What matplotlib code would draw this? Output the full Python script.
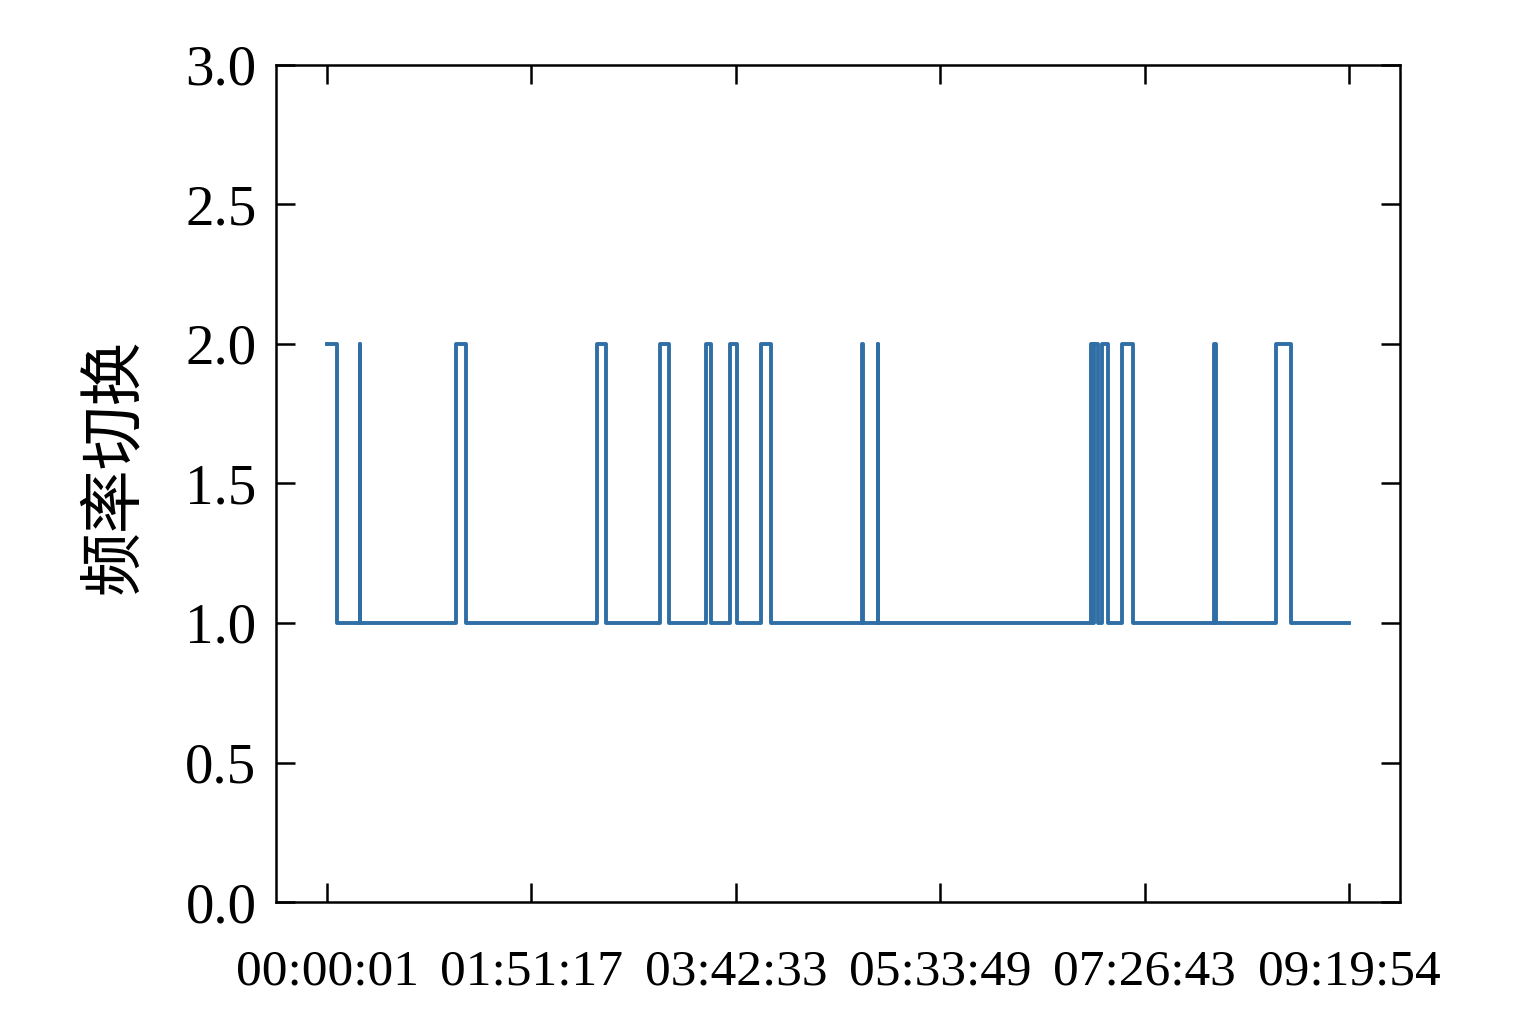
import matplotlib
matplotlib.use("Agg")
import matplotlib.pyplot as plt

# sample index at which the level changes, and the level from there on
switch_idx = [0, 47, 161, 163, 630, 679, 1319, 1364, 1629, 1675, 1853, 1880,
              1972, 2004, 2125, 2172, 2619, 2623, 2694, 2698, 3738, 3750,
              3755, 3772, 3790, 3822, 3888, 3945, 4338, 4352, 4644, 4716, 5000]
levels = [2, 1, 2, 1, 2, 1, 2, 1, 2, 1, 2, 1,
          2, 1, 2, 1, 2, 1, 2, 1, 2, 1,
          2, 1, 2, 1, 2, 1, 2, 1, 2, 1, 1]

tick_idx = [0, 1000, 2000, 3000, 4000, 5000]
tick_labels = ["00:00:01", "01:51:17", "03:42:33", "05:33:49", "07:26:43", "09:19:54"]

plt.rcParams["font.family"] = ["Liberation Serif", "Noto Sans CJK SC"]

fig = plt.figure(figsize=(15.14, 10.31), dpi=100)
ax = fig.add_axes([0.1823, 0.1251, 0.7424, 0.8119])

ax.plot(switch_idx, levels, drawstyle="steps-post", color="#2f6fa5", lw=2.8)

ax.set_ylim(0, 3)
ax.set_xlim(-250, 5250)
ax.set_yticks([0, 0.5, 1.0, 1.5, 2.0, 2.5, 3.0])
ax.set_yticklabels(["0.0", "0.5", "1.0", "1.5", "2.0", "2.5", "3.0"])
ax.set_xticks(tick_idx)
ax.set_xticklabels(tick_labels)

ax.tick_params(direction="in", length=14, width=1.8, top=True, right=True)
ax.tick_params(axis="y", labelsize=41, pad=14)
ax.tick_params(axis="x", labelsize=37, pad=34)
for s in ax.spines.values():
    s.set_linewidth(1.8)

ax.set_ylabel("频率切换", fontsize=46, family=["Noto Sans CJK SC"])
ax.yaxis.set_label_coords(-0.115, 0.52)

fig.savefig("out.png", dpi=100)
